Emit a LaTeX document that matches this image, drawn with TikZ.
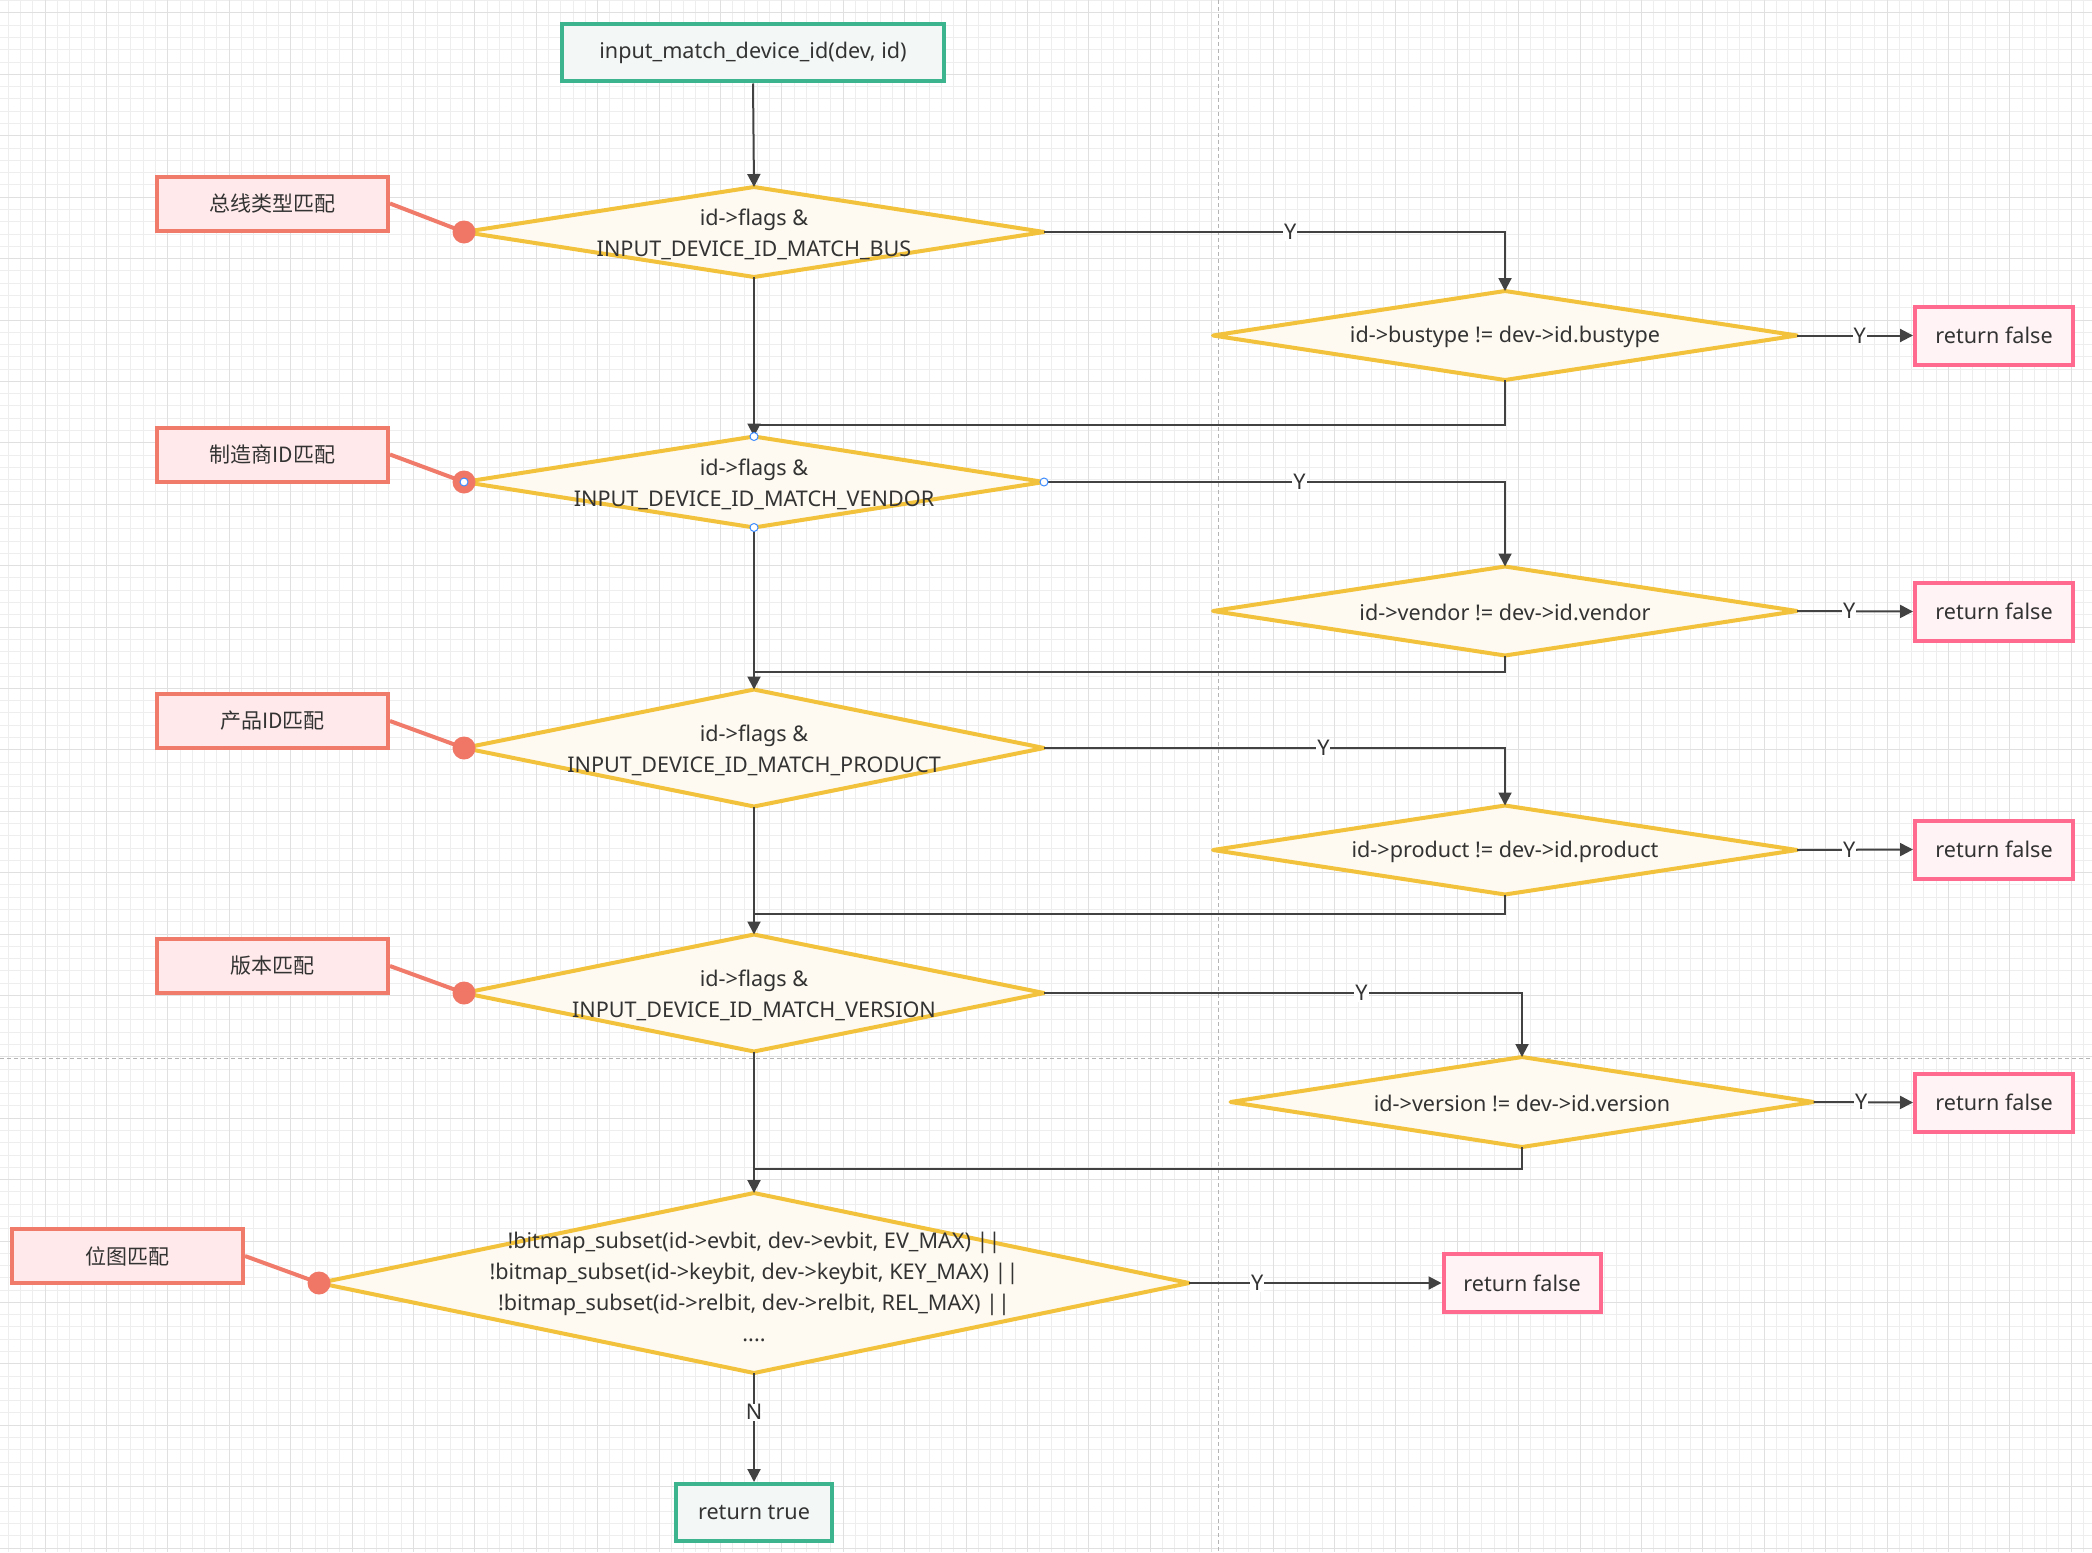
\documentclass[tikz,border=0pt]{standalone}
\usepackage{fontspec}
\setmainfont{Noto Sans}
\newfontfamily\cjk{Noto Sans CJK SC}
\usetikzlibrary{arrows.meta,shapes.geometric}
\definecolor{txtc}{HTML}{333333}
\definecolor{diaD}{HTML}{F2C23C}
\definecolor{diaF}{HTML}{FEFAF1}
\definecolor{labD}{HTML}{F07B6A}
\definecolor{labF}{HTML}{FFE9EA}
\definecolor{dotC}{HTML}{F07766}
\definecolor{rfD}{HTML}{FF6A8E}
\definecolor{rfF}{HTML}{FFF3F5}
\definecolor{gD}{HTML}{3CB58E}
\definecolor{gF}{HTML}{F3F7F6}
\definecolor{lineC}{HTML}{424242}
\definecolor{gminC}{HTML}{EEEEEE}
\definecolor{gmajC}{HTML}{E0E0E0}
\definecolor{pbC}{HTML}{B4B4B4}
\definecolor{selC}{HTML}{3D8CFF}
\begin{document}
\begin{tikzpicture}[x=1pt,y=-1pt,
  every node/.style={font=\fontsize{21.6}{31}\selectfont, text=txtc},
  dia/.style={diamond, draw=diaD, fill=diaF, line width=4pt, line join=round, inner sep=0pt, outer sep=0pt},
  dtext/.style={align=center, inner sep=0pt},
  labbox/.style={rectangle, draw=labD, fill=labF, line width=4pt, minimum width=231pt, minimum height=54pt, font=\cjk\fontsize{21}{31}\selectfont},
  rfbox/.style={rectangle, draw=rfD, fill=rfF, line width=4pt, minimum width=158pt, minimum height=58pt},
  gbox/.style={rectangle, draw=gD, fill=gF, line width=4pt, minimum height=57pt},
  conn/.style={draw=lineC, line width=2pt},
  arr/.style={conn, -{Triangle[width=13pt,length=13pt]}},
  ylab/.style={fill=white, inner sep=1pt},
  labline/.style={draw=labD, line width=4pt},
  dotc/.style={fill=dotC},
  selh/.style={fill=white, draw=selC, line width=1pt},
  gminor/.style={draw=gminC, line width=1pt},
  gmajor/.style={draw=gmajC, line width=1pt},
  pbreak/.style={draw=pbC, line width=1pt, dash pattern=on 4pt off 3pt},
]
% background and grid
\fill[white] (0,0) rectangle (2092,1552);
\useasboundingbox (0,0) rectangle (2092,1552);
\foreach \i in {0,...,170} {\draw[gminor] ({8.16+12.28*\i},0) -- ({8.16+12.28*\i},1552);}
\foreach \i in {0,...,126} {\draw[gminor] (0,{0.72+12.28*\i}) -- (2092,{0.72+12.28*\i});}
\foreach \i in {0,...,33} {\draw[gmajor] ({45+61.4*\i},0) -- ({45+61.4*\i},1552);}
\foreach \i in {0,...,25} {\draw[gmajor] (0,{13+61.4*\i}) -- (2092,{13+61.4*\i});}
\draw[pbreak] (1218,0) -- (1218,1552);
\draw[pbreak] (0,1058) -- (2092,1058);

% nodes
\node[gbox, minimum width=382pt] (start) at (753,53) {input\_match\_device\_id(dev, id)};

\node[dia, minimum width=580pt, minimum height=90pt] (d1) at (754,232) {};
\node[dtext] (t1) at (754,234) {id->flags \&\\INPUT\_DEVICE\_ID\_MATCH\_BUS};
\node[dia, minimum width=584pt, minimum height=89pt] (d1b) at (1505,335.5) {};
\node[dtext] (t1b) at (1505,337) {id->bustype != dev->id.bustype};
\node[rfbox] (rf1) at (1994,335.5) {return false};
\node[labbox] (l1) at (272.5,203.5) {总线类型匹配};

\node[dia, minimum width=580pt, minimum height=91pt] (d2) at (754,482) {};
\node[dtext] (t2) at (754,484) {id->flags \&\\INPUT\_DEVICE\_ID\_MATCH\_VENDOR};
\node[dia, minimum width=584pt, minimum height=89pt] (d2b) at (1505,611) {};
\node[dtext] (t2b) at (1505,612.5) {id->vendor != dev->id.vendor};
\node[rfbox] (rf2) at (1994,611.5) {return false};
\node[labbox] (l2) at (272.5,454.5) {制造商ID匹配};

\node[dia, minimum width=580pt, minimum height=117pt] (d3) at (754,748) {};
\node[dtext] (t3) at (754,750) {id->flags \&\\INPUT\_DEVICE\_ID\_MATCH\_PRODUCT};
\node[dia, minimum width=584pt, minimum height=89pt] (d3b) at (1505,850) {};
\node[dtext] (t3b) at (1505,851.5) {id->product != dev->id.product};
\node[rfbox] (rf3) at (1994,849.5) {return false};
\node[labbox] (l3) at (272.5,721) {产品ID匹配};

\node[dia, minimum width=580pt, minimum height=117pt] (d4) at (754,993) {};
\node[dtext] (t4) at (754,995) {id->flags \&\\INPUT\_DEVICE\_ID\_MATCH\_VERSION};
\node[dia, minimum width=583pt, minimum height=90pt] (d4b) at (1522,1102) {};
\node[dtext] (t4b) at (1522,1103.5) {id->version != dev->id.version};
\node[rfbox] (rf4) at (1994,1102.5) {return false};
\node[labbox] (l4) at (272.5,966) {版本匹配};

\node[dia, minimum width=870pt, minimum height=180pt] (d5) at (754,1283) {};
\node[dtext] (t5) at (754,1287) {!bitmap\_subset(id->evbit, dev->evbit, EV\_MAX) ||\\!bitmap\_subset(id->keybit, dev->keybit, KEY\_MAX) ||\\!bitmap\_subset(id->relbit, dev->relbit, REL\_MAX) ||\\....};
\node[rfbox, minimum width=157pt] (rf5) at (1522,1283) {return false};
\node[labbox] (l5) at (127.5,1256) {位图匹配};
\node[gbox, minimum width=156pt] (rtrue) at (754,1512.5) {return true};

\coordinate (m1) at (754,425);
\coordinate (m2) at (754,672);
\coordinate (m3) at (754,914);
\coordinate (m4) at (754,1169);

% connectors
\draw[arr] (start.south) -- (d1.north);
\draw[arr] (d1.east) -| node[ylab, pos=0.267] {Y} (d1b.north);
\draw[arr] (d1b.east) -- node[ylab, pos=0.54] {Y} (rf1.west);
\draw[conn] (d1b.south) |- (m1);
\draw[arr] (d1.south) -- (d2.north);

\draw[arr] (d2.east) -| node[ylab, pos=0.277] {Y} (d2b.north);
\draw[arr] (d2b.east) -- node[ylab, pos=0.45] {Y} (rf2.west);
\draw[conn] (d2b.south) |- (m2);
\draw[arr] (d2.south) -- (d3.north);

\draw[arr] (d3.east) -| node[ylab, pos=0.303] {Y} (d3b.north);
\draw[arr] (d3b.east) -- node[ylab, pos=0.45] {Y} (rf3.west);
\draw[conn] (d3b.south) |- (m3);
\draw[arr] (d3.south) -- (d4.north);

\draw[arr] (d4.east) -| node[ylab, pos=0.332] {Y} (d4b.north);
\draw[arr] (d4b.east) -- node[ylab, pos=0.48] {Y} (rf4.west);
\draw[conn] (d4b.south) |- (m4);
\draw[arr] (d4.south) -- (d5.north);

\draw[arr] (d5.east) -- node[ylab, pos=0.27] {Y} (rf5.west);
\draw[arr] (d5.south) -- node[ylab, pos=0.36] {N} (rtrue.north);

% annotation links
\draw[labline] (l1.east) -- (d1.west);
\fill[dotc] (d1.west) circle (11.5pt);
\draw[labline] (l2.east) -- (d2.west);
\fill[dotc] (d2.west) circle (11.5pt);
\draw[labline] (l3.east) -- (d3.west);
\fill[dotc] (d3.west) circle (11.5pt);
\draw[labline] (l4.east) -- (d4.west);
\fill[dotc] (d4.west) circle (11.5pt);
\draw[labline] (l5.east) -- (d5.west);
\fill[dotc] (d5.west) circle (11.5pt);

% selection handles on the second test
\foreach \a in {north,south,east,west} {\filldraw[selh] (d2.\a) circle (4pt);}
\end{tikzpicture}
\end{document}
